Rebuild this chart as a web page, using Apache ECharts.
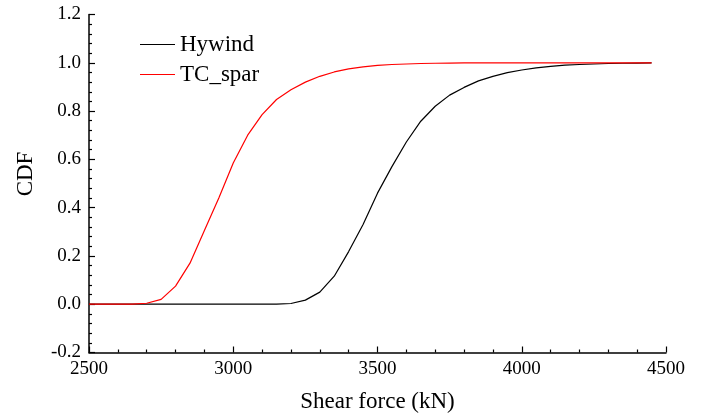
<!DOCTYPE html>
<html>
<head>
<meta charset="utf-8">
<script src="https://cdn.jsdelivr.net/npm/echarts@6/dist/echarts.min.js"></script>
<style>
html,body{margin:0;padding:0;background:#fff;}
#chart{width:706px;height:415px;}
</style>
</head>
<body>
<div id="chart"></div>
<script>
// Shear force (kN) sample points
var forces = [2500,2550,2600,2650,2700,2750,2800,2850,2900,2950,3000,3050,3100,3150,3200,3250,3300,3350,3400,3450,3500,3550,3600,3650,3700,3750,3800,3850,3900,3950,4000,4050,4100,4150,4200,4250,4300,4350,4400,4450];
var hywind = [0,0,0,0,0,0,0,0,0,0,0,0,0,0,0.003,0.017,0.05,0.116,0.218,0.33,0.46,0.57,0.672,0.758,0.82,0.866,0.898,0.925,0.944,0.959,0.97,0.979,0.985,0.99,0.993,0.995,0.997,0.998,0.999,1.0];
var tcSpar = [0,0,0,0,0.004,0.02,0.075,0.17,0.305,0.44,0.585,0.7,0.785,0.848,0.888,0.92,0.944,0.962,0.975,0.983,0.989,0.993,0.995,0.997,0.998,0.999,1,1,1,1,1,1,1,1,1,1,1,1,1,1];
var seriesNames = ['Hywind','TC_spar'];
var xTicks = [2500,3000,3500,4000,4500];
var yTicks = [-0.2,0,0.2,0.4,0.6,0.8,1.0,1.2];

function pairs(xs, ys){ return xs.map(function(x,i){ return [x, ys[i]]; }); }

var font = '"Liberation Serif","Times New Roman",serif';
var chart = echarts.init(document.getElementById('chart'), null, {renderer:'canvas'});
chart.setOption({
  animation:false,
  backgroundColor:'#fff',
  textStyle:{fontFamily:font},
  grid:{left:89,right:40,top:14.5,bottom:62.5,containLabel:false,outerBoundsMode:'none'},
  legend:{
    orient:'vertical', left:140, top:33, padding:0,
    itemWidth:35, itemHeight:1.2, itemGap:7, itemTextGap:7,
    icon:'rect',
    textStyle:{fontFamily:font,fontSize:23,color:'#000',lineHeight:22},
    data:seriesNames
  },
  xAxis:{
    type:'value', min:xTicks[0], max:xTicks[xTicks.length-1], interval:500,
    name:'Shear force (kN)', nameLocation:'middle', nameGap:38,
    nameTextStyle:{fontFamily:font,fontSize:23,color:'#000'},
    axisLine:{show:true,onZero:false,lineStyle:{color:'#000',width:1.5}},
    axisTick:{show:true,inside:true,length:6,lineStyle:{color:'#000',width:1.2}},
    minorTick:{show:true,splitNumber:5,length:3,lineStyle:{color:'#000',width:1.2}},
    axisLabel:{fontFamily:font,fontSize:19,color:'#000',margin:7,
      formatter:function(v){ return String(v); }},
    splitLine:{show:false}
  },
  yAxis:{
    type:'value', min:yTicks[0], max:yTicks[yTicks.length-1], interval:0.2,
    name:'CDF', nameLocation:'middle', nameGap:52, nameRotate:90,
    nameTextStyle:{fontFamily:font,fontSize:23,color:'#000',padding:[0,0,0,19]},
    axisLine:{show:true,onZero:false,lineStyle:{color:'#000',width:1.5}},
    axisTick:{show:true,inside:true,length:6,lineStyle:{color:'#000',width:1.2}},
    minorTick:{show:true,splitNumber:5,length:3,lineStyle:{color:'#000',width:1.2}},
    axisLabel:{fontFamily:font,fontSize:19,color:'#000',margin:8,
      formatter:function(v){ return (Math.abs(v)<1e-9?0:v).toFixed(1); }},
    splitLine:{show:false}
  },
  series:[
    {name:seriesNames[0], type:'line', data:pairs(forces,hywind), showSymbol:false, symbol:'none',
     lineStyle:{color:'#000',width:1.2}, itemStyle:{color:'#000'}, z:2},
    {name:seriesNames[1], type:'line', data:pairs(forces,tcSpar), showSymbol:false, symbol:'none',
     lineStyle:{color:'#ff0000',width:1.2}, itemStyle:{color:'#ff0000'}, z:3}
  ]
});
</script>
</body>
</html>
